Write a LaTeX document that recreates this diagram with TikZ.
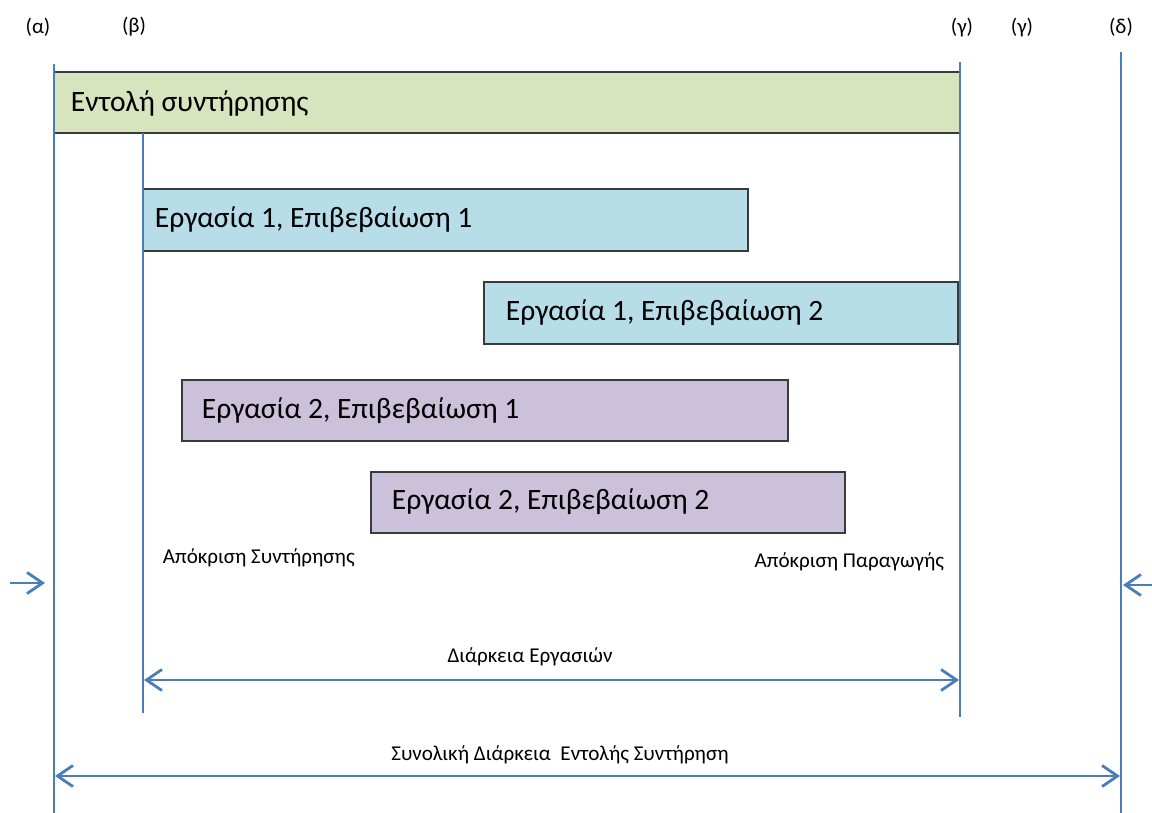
\documentclass[tikz,border=0pt]{standalone}
\usepackage{fontspec}
\setmainfont{Carlito}
\usepackage{xcolor}
\usepackage{tikz}
\usetikzlibrary{arrows.meta}
\definecolor{PlanBlue}{HTML}{4A7EBB}
\definecolor{PlanGreen}{HTML}{D7E4BD}
\definecolor{PlanCyan}{HTML}{B7DEE8}
\definecolor{PlanLilac}{HTML}{CCC1DA}
\definecolor{PlanEdge}{HTML}{3A3A3A}

\begin{document}
\begin{tikzpicture}[x=0.025cm,y=-0.025cm,
  markline/.style={PlanBlue,line width=1.4pt},
  spanarrow/.style={PlanBlue,line width=2pt,{Straight Barb[length=11pt,width=15pt]}-{Straight Barb[length=11pt,width=15pt]}},
  inarrow/.style={PlanBlue,line width=2pt,-{Straight Barb[length=11pt,width=15pt]}},
  taskbox/.style={draw=PlanEdge,line width=1pt},
  tasktext/.style={anchor=west,font=\fontsize{21}{25}\selectfont},
  smalltext/.style={font=\fontsize{15}{18}\selectfont}]
\path[use as bounding box] (0,0) rectangle (1152,813);
% top marks
\node[smalltext] (ta) at (38,27) {(α)};
\node[smalltext] (tb) at (134,27) {(β)};
\node[smalltext] (tg1) at (962,27) {(γ)};
\node[smalltext] (tg2) at (1022,27) {(γ)};
\node[smalltext] (td) at (1121,27) {(δ)};
% boxes
\draw[taskbox,fill=PlanGreen] (54,72) rectangle (960,133);
\node[tasktext] (order) at (66,103) {Εντολή συντήρησης};
\draw[taskbox,fill=PlanCyan] (143,189) rectangle (748,251);
\node[tasktext] (w1c1) at (150,220) {Εργασία 1, Επιβεβαίωση 1};
\draw[taskbox,fill=PlanCyan] (484,282) rectangle (958,344);
\node[tasktext] (w1c2) at (501,313) {Εργασία 1, Επιβεβαίωση 2};
\draw[taskbox,fill=PlanLilac] (182,380) rectangle (788,441);
\node[tasktext] (w2c1) at (197,411) {Εργασία 2, Επιβεβαίωση 1};
\draw[taskbox,fill=PlanLilac] (371,472) rectangle (845,533);
\node[tasktext] (w2c2) at (387,502) {Εργασία 2, Επιβεβαίωση 2};
% vertical marks
\coordinate (a-top) at (54,64);
\coordinate (a-bot) at (54,813);
\coordinate (b-top) at (143,133);
\coordinate (b-bot) at (143,713);
\coordinate (g-top) at (960,62);
\coordinate (g-bot) at (960,717);
\coordinate (d-top) at (1121,52);
\coordinate (d-bot) at (1121,813);
\draw[markline] (a-top) -- (a-bot);
\draw[markline] (b-top) -- (b-bot);
\draw[markline] (g-top) -- (g-bot);
\draw[markline] (d-top) -- (d-bot);
% responses
\node[smalltext,anchor=west] (maint) at (158,558) {Απόκριση Συντήρησης};
\node[smalltext,anchor=east] (prod) at (949,562) {Απόκριση Παραγωγής};
\coordinate (in-l) at (10,583);
\coordinate (a-in) at (45,583);
\coordinate (in-r) at (1152,585);
\coordinate (d-in) at (1123,585);
\draw[inarrow] (in-l) -- (a-in);
\draw[inarrow] (in-r) -- (d-in);
% durations
\coordinate (b-span) at (144,680);
\coordinate (g-span) at (959,680);
\draw[spanarrow] (b-span) -- (g-span);
\node[smalltext] (tasks) at (530,657) {Διάρκεια Εργασιών};
\coordinate (a-span) at (55,776);
\coordinate (d-span) at (1120,776);
\draw[spanarrow] (a-span) -- (d-span);
\node[smalltext] (total) at (560,755) {Συνολική Διάρκεια\ \ Εντολής Συντήρηση};
\end{tikzpicture}
\end{document}
